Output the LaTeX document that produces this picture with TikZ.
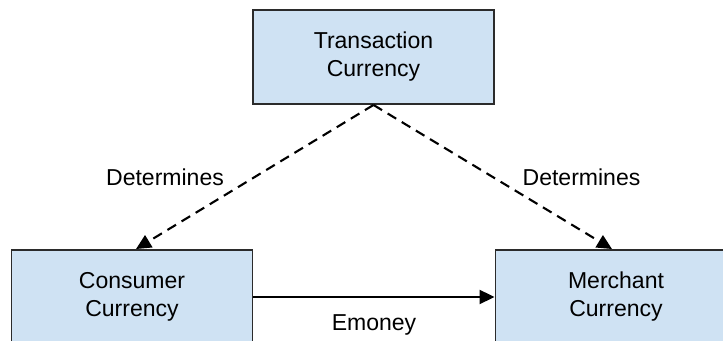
\documentclass[tikz,border=0pt]{standalone}
\usepackage{fontspec}
\setmainfont{Liberation Sans}
\usetikzlibrary{arrows.meta}

\definecolor{boxblue}{HTML}{CFE2F3}
\definecolor{boxline}{HTML}{2B2B2B}

\tikzset{
	curbox/.style={draw=boxline,fill=boxblue,line width=1.1pt,align=center,
		minimum width=4.82cm,minimum height=1.88cm},
	detarrow/.style={line width=1.2pt,dash pattern=on 2mm off 1.3mm,
		-{Triangle[length=3mm,width=2.8mm]}},
	payarrow/.style={line width=1.2pt,-{Triangle[length=3mm,width=2.8mm]}}
}

\begin{document}
\begin{tikzpicture}[font=\fontsize{13.1}{15.9}\selectfont]

\useasboundingbox (0,0) rectangle (14.46,6.82);

% CURRENCIES
\node[curbox] (trans) at (7.47,5.68) {Transaction\\Currency};
\node[curbox] (cons) at (2.64,0.88) {Consumer\\Currency};
\node[curbox] (merch) at (12.32,0.88) {Merchant\\Currency};

% DETERMINES
\draw[detarrow] (trans.south) -- ([xshift=0.8mm]cons.north) node[midway,left=4.8mm]{Determines};
\draw[detarrow] (trans.south) -- ([xshift=-0.8mm]merch.north) node[midway,right=4.6mm]{Determines};

% EMONEY
\draw[payarrow] (cons.east) -- (merch.west) node[midway,below=2.2mm]{Emoney};

\end{tikzpicture}
\end{document}
